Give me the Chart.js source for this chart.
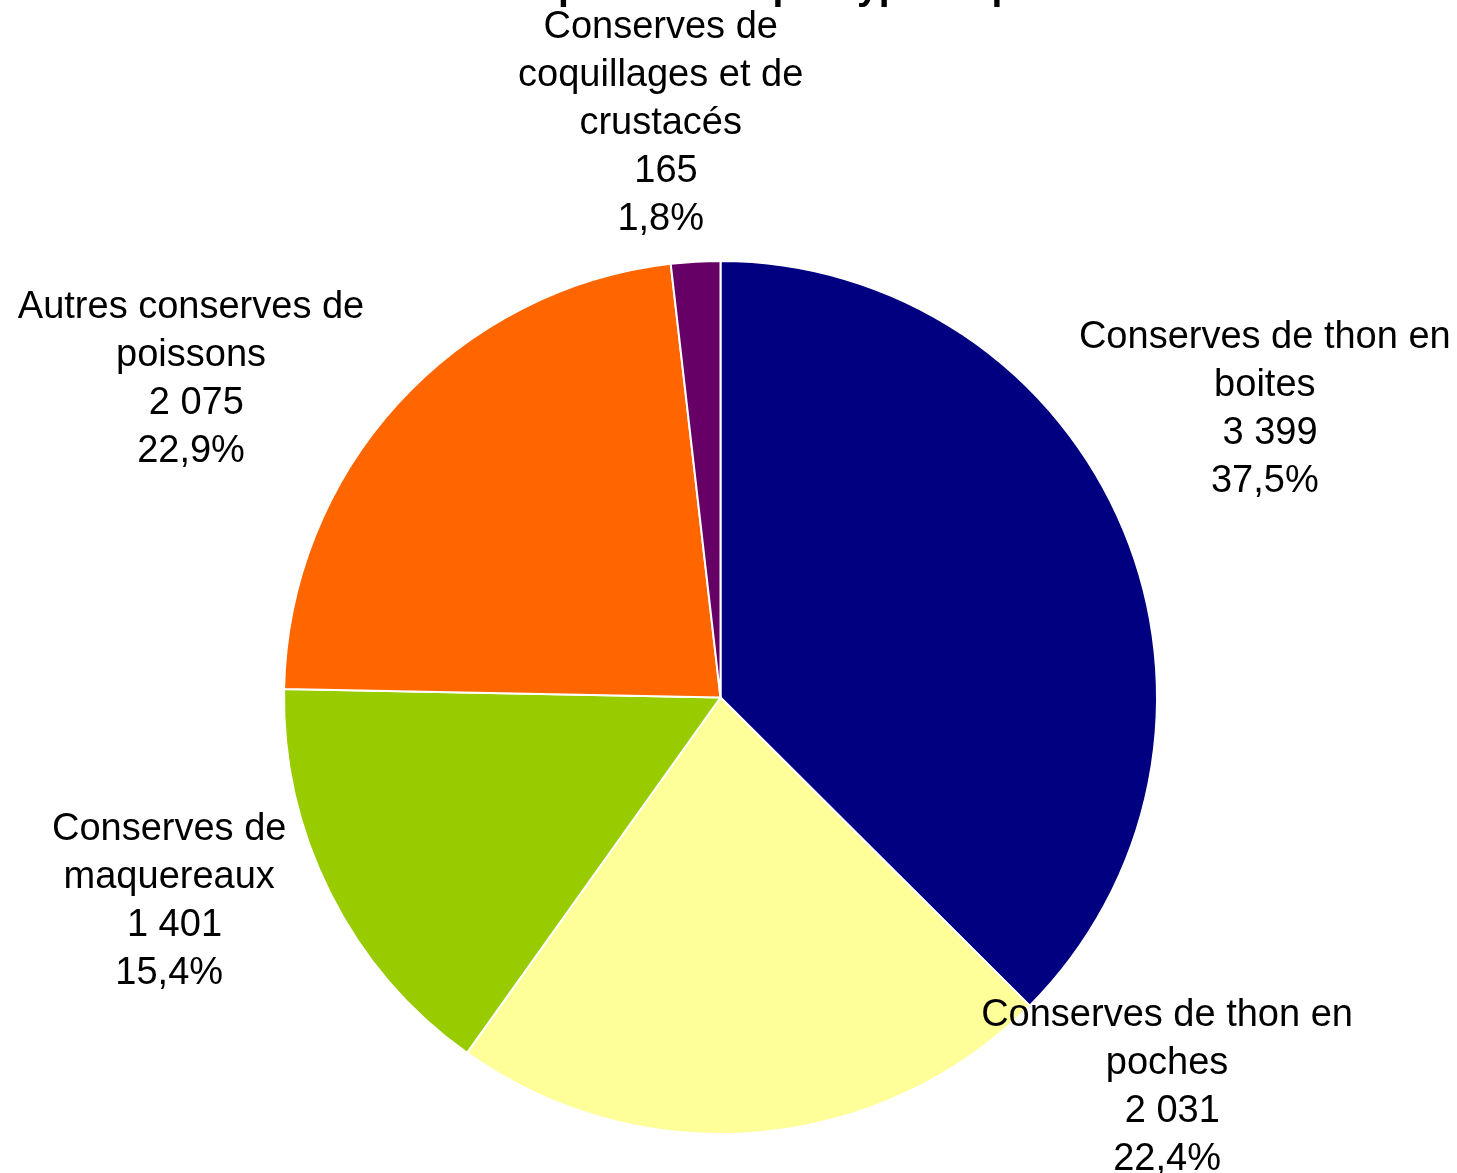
<!DOCTYPE html>
<html>
<head>
<meta charset="utf-8">
<script src="https://cdn.jsdelivr.net/npm/chart.js@4/dist/chart.umd.min.js"></script>
<style>
  html, body { margin: 0; padding: 0; background: #fff; }
  #wrap { width: 1457px; height: 1173px; }
</style>
</head>
<body>
<div id="wrap"><canvas id="chart" width="1457" height="1173"></canvas></div>
<script>
const categories = [
  'Conserves de thon en boites',
  'Conserves de thon en poches',
  'Conserves de maquereaux',
  'Autres conserves de poissons',
  'Conserves de coquillages et de crustacés'
];
const labelLines = [
  ['Conserves de thon en', 'boites'],
  ['Conserves de thon en', 'poches'],
  ['Conserves de', 'maquereaux'],
  ['Autres conserves de', 'poissons'],
  ['Conserves de', 'coquillages et de', 'crustacés']
];
const values = [3399, 2031, 1401, 2075, 165];
const colors = ['#000080', '#FFFF99', '#99CC00', '#FF6600', '#660066'];
const title = 'Volume de la production par type de produits';

// where each label block sits, in units of the pie radius from its centre
const labelOffsets = [
  [1.247, -0.660],
  [1.023, 0.893],
  [-1.263, 0.467],
  [-1.213, -0.728],
  [-0.137, -1.314]
];

const total = values.reduce((a, b) => a + b, 0);
const fmtNum = v => String(v).replace(/\B(?=(\d{3})+(?!\d))/g, ' ');
const fmtPct = v => (v / total * 100).toFixed(1).replace('.', ',') + '%';

const FONT = '"Liberation Sans", Arial, sans-serif';

const labelsPlugin = {
  id: 'pieLabels',
  afterDraw(chart) {
    const ctx = chart.ctx;
    const arcs = chart.getDatasetMeta(0).data;
    ctx.save();
    ctx.fillStyle = '#000';
    ctx.textAlign = 'center';
    ctx.textBaseline = 'middle';
    ctx.font = '38px ' + FONT;
    const lh = 48;
    arcs.forEach((arc, i) => {
      const r = arc.outerRadius;
      const cx = arc.x + labelOffsets[i][0] * r;
      const cy = arc.y + labelOffsets[i][1] * r;
      const lines = labelLines[i].concat([' ' + fmtNum(values[i]), fmtPct(values[i])]);
      const top = cy - (lines.length - 1) * lh / 2;
      lines.forEach((t, k) => ctx.fillText(t, cx, top + k * lh));
    });
    // title sits mostly above the canvas edge
    ctx.font = 'bold 39px ' + FONT;
    ctx.textBaseline = 'alphabetic';
    ctx.fillText(title, chart.width / 2, -1);
    ctx.restore();
  }
};

new Chart(document.getElementById('chart'), {
  type: 'pie',
  data: {
    labels: categories,
    datasets: [{
      data: values,
      backgroundColor: colors,
      borderColor: '#ffffff',
      borderWidth: 2
    }]
  },
  options: {
    responsive: false,
    animation: false,
    layout: { padding: { top: 260, bottom: 38, left: 283, right: 299 } },
    plugins: {
      legend: { display: false },
      tooltip: { enabled: false },
      title: { display: false }
    }
  },
  plugins: [labelsPlugin]
});
</script>
</body>
</html>
